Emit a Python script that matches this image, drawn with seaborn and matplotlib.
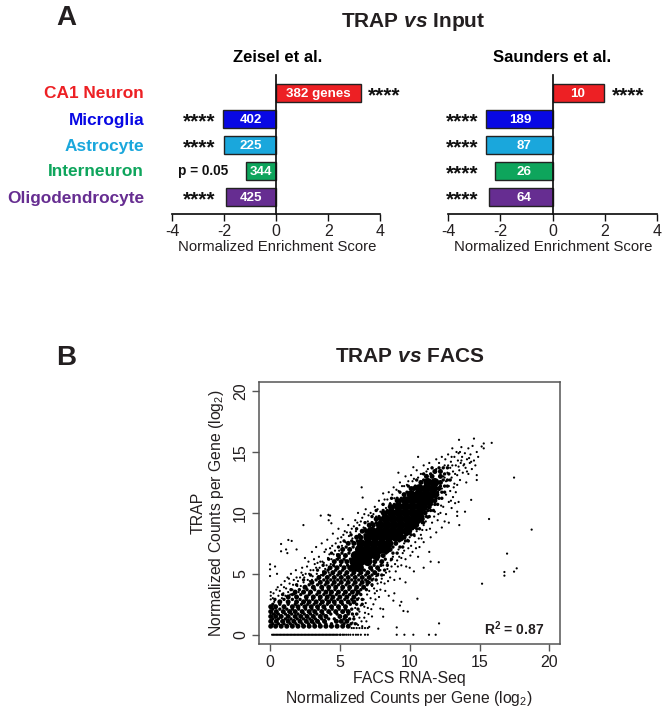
import matplotlib
matplotlib.use("Agg")
import matplotlib.pyplot as plt
import pandas as pd
import seaborn as sns

cell_types = ["CA1 Neuron", "Microglia", "Astrocyte", "Interneuron", "Oligodendrocyte"]
cell_colors = ["#ed2024", "#0808e4", "#1aa7dc", "#0ea55c", "#662d91"]
zeisel_nes = [3.26, -2.04, -1.99, -1.15, -1.91]
saunders_nes = [1.97, -2.55, -2.57, -2.22, -2.43]
zeisel_genes = ["382 genes", "402", "225", "344", "425"]
saunders_genes = ["10", "189", "87", "26", "64"]
zeisel_sig = ["****", "****", "****", "p = 0.05", "****"]
saunders_sig = ["****", "****", "****", "****", "****"]
nes_ticks = [-4, -2, 0, 2, 4]
scatter_ticks = [0, 5, 10, 15, 20]

core_rows = [
    (5.5, [6.0, 6.4]), (6, [6.0, 6.5, 7.0]), (6.5, [6.1, 6.6, 7.1, 7.6]),
    (7, [6.4, 6.9, 7.4, 7.9, 8.3]), (7.5, [6.5, 7.0, 7.5, 8.0, 8.5]),
    (8, [7.0, 7.5, 8.0, 8.5, 9.0, 9.3]), (8.5, [7.3, 7.8, 8.3, 8.8, 9.3, 9.8]),
    (9, [7.9, 8.4, 8.9, 9.4, 9.9, 10.2]), (9.5, [8.3, 8.8, 9.3, 9.8, 10.3, 10.6]),
    (10, [8.7, 9.2, 9.7, 10.2, 10.7]), (10.5, [9.2, 9.7, 10.2, 10.7, 11.0]),
    (11, [9.7, 10.2, 10.7, 11.2, 11.4]), (11.5, [10.1, 10.6, 11.1, 11.6]),
    (12, [10.7, 11.2, 11.7]), (12.5, [11.3, 11.8]),
]
patch_rows = [
    (0.7, [0.05, 0.4, 0.8, 1.2, 1.6, 2, 2.4, 2.8, 3.2, 3.6, 4, 4.4, 4.8, 5.2, 5.6]),
    (1.1, [0.05, 0.45, 0.9, 1.3, 1.7, 2.15, 2.6, 3, 3.4, 3.9, 4.75, 5.1, 5.5]),
    (1.5, [0.05, 0.4, 0.8, 1.3, 1.8, 2.2, 2.65, 3.1, 3.6, 4, 5.0, 5.4]),
    (1.9, [0.05, 0.45, 0.95, 1.4, 1.8, 2.3, 2.8, 3.2, 3.7, 4.2, 4.7, 5.2, 5.6]),
    (2.3, [0.05, 0.4, 1.0, 1.6, 2, 2.5, 2.95, 3.4, 3.85, 4.4, 4.9, 5.4]),
    (2.7, [0.7, 1.3, 1.9, 2.4, 2.8, 3.3, 3.75, 4.2, 4.6, 5.1, 5.6, 6]),
    (3.1, [1.3, 1.9, 2.6, 3.1, 3.6, 4.1, 4.5, 5, 5.5, 6]),
    (3.5, [1.8, 2.4, 2.9, 3.5, 4, 4.4, 4.9, 5.4, 5.9, 6.3]),
    (3.9, [2.5, 3.1, 3.7, 4.2, 4.7, 5.2, 5.7, 6.2, 6.7]),
    (4.3, [3, 3.6, 4.1, 4.6, 5.1, 5.6, 6.1, 6.6, 7]),
    (4.7, [3.5, 4.1, 4.6, 5.1, 5.6, 6.1, 6.6, 7.1]),
    (5.1, [3.9, 4.5, 5, 5.5, 6, 6.5, 7, 7.5]),
    (5.5, [4.3, 4.8, 5.3, 5.7, 7.2, 7.7]), (6, [4.6, 5.1, 5.5, 7.5, 8]),
    (6.5, [4.9, 5.4, 8.1]), (7, [5.2, 5.7, 8.6]), (7.5, [5.6, 6, 9]),
    (8, [6.2, 6.5, 9.6]), (8.5, [6.6, 6.9, 10]), (9, [7.1, 7.4, 10.5]),
    (9.5, [7.6, 7.9, 10.9]), (10, [8.1, 8.3, 11.1]), (10.5, [8.6, 8.8, 11.4]),
    (11, [9.1, 9.3, 11.8]), (11.5, [9.6, 11.95]), (12, [10.1, 10.3, 12.1]),
    (12.5, [10.8, 12.2]), (13, [11.2, 11.6, 12.2]), (13.4, [11.8, 12.2]),
]
speck_rows = [
    (0.9, [.2, .6, 1.0, 1.45, 1.85, 2.3, 2.75, 3.15, 3.55, 4.0, 4.4, 5.3, 5.8, 6.1]),
    (1.3, [.2, .6, 1.1, 1.5, 1.95, 2.4, 2.85, 3.25, 3.7, 4.2, 4.6, 5.3, 5.7, 6.0]),
    (1.7, [.25, .6, 1.1, 1.55, 2.0, 2.45, 2.9, 3.35, 3.8, 4.35, 4.8, 5.6, 5.9, 6.2]),
    (2.1, [.2, .7, 1.2, 1.6, 2.05, 2.55, 3.0, 3.45, 3.95, 4.45, 4.95, 5.4, 5.85, 6.3]),
    (2.5, [.2, .7, 1.3, 1.8, 2.25, 2.7, 3.15, 3.6, 4.1, 4.65, 5.2, 5.75, 6.2, 6.6]),
    (2.9, [.35, 1.0, 1.6, 2.15, 2.6, 3.05, 3.55, 4.0, 4.4, 4.85, 5.35, 5.85, 6.25, 6.6]),
    (3.3, [.9, 1.6, 2.2, 2.8, 3.35, 3.85, 4.3, 4.75, 5.25, 5.7, 6.2, 6.5]),
    (3.7, [1.5, 2.1, 2.65, 3.2, 3.75, 4.2, 4.65, 5.15, 5.65, 6.1, 6.5, 6.9]),
    (4.1, [1.9, 2.8, 3.4, 3.95, 4.45, 4.9, 5.45, 5.95, 6.45, 6.95, 7.3]),
    (4.5, [2.4, 3.3, 3.85, 4.35, 4.85, 5.35, 5.85, 6.35, 6.85, 7.3, 7.6]),
    (4.9, [2.9, 3.8, 4.3, 4.85, 5.35, 5.85, 6.35, 6.85, 7.3, 7.7, 8.0]),
    (5.3, [3.4, 4.15, 4.7, 5.2, 5.75, 6.25, 6.75, 7.3, 7.8, 8.2]),
    (5.7, [3.8, 4.55, 5.05, 5.55, 7.45, 7.95, 8.4]),
    (6.2, [4.2, 4.85, 5.3, 5.75, 7.7, 8.25, 8.7]),
    (6.7, [4.4, 5.15, 5.65, 8.3, 8.8, 9.1]),
    (7.2, [4.9, 5.45, 5.95, 8.8, 9.3, 9.5]),
    (7.7, [5.3, 5.85, 6.25, 9.25, 9.7, 9.9]),
    (8.2, [5.8, 6.4, 6.8, 9.75, 10.1, 10.3]),
    (8.7, [6.2, 6.8, 7.1, 10.2, 10.5, 10.7]),
    (9.2, [6.8, 7.3, 7.6, 10.6, 10.9, 11.0]),
    (9.7, [7.3, 7.8, 8.1, 10.95, 11.2, 11.4]),
    (10.2, [7.6, 8.1, 8.4, 11.3, 11.5, 11.7]),
    (10.7, [8.1, 8.6, 8.9, 11.55, 11.8, 12.0]),
    (11.2, [8.7, 9.1, 9.4, 11.9, 12.1, 12.3]),
    (11.7, [9.3, 9.8, 12.0, 12.3, 12.5]),
    (12.2, [9.9, 10.4, 12.2, 12.5, 12.7]),
    (12.7, [10.5, 11.0, 12.4, 12.7, 12.9]),
    (13.2, [11.0, 11.5, 12.5, 12.8]),
    (13.7, [11.6, 12.1, 12.4, 12.7]),
]
zero_row_x = [0.15, 0.25, 0.35, 0.45, 0.55, 0.65, 0.75, 0.85, 0.95, 1.05, 1.15, 1.25, 1.35, 1.45, 1.55,
              1.65, 1.75, 1.85, 1.95, 2.05, 2.15, 2.25, 2.35, 2.45, 2.55, 2.65, 2.75, 2.85, 2.95, 3.05,
              3.15, 3.25, 3.35, 3.45, 3.55, 3.65, 3.75, 3.85, 3.95, 4.05, 4.15, 4.25, 4.35, 4.45, 4.55,
              4.65, 4.75, 4.85, 5.0, 5.05, 5.2, 5.3, 5.45, 5.6, 5.75, 5.95, 6.15, 6.3, 6.5, 6.8, 7.0,
              9.07, 9.62, 10.26, 11.38, 11.86]
upper_fringe = [
    (.05, 2.9), (.05, 3.2), (.05, 3.5), (.2, 3), (.25, 3.4), (.35, 2.9), (.45, 3.7), (.6, 3.2), (.7, 3.6), (.8, 4.1),
    (.95, 3.4), (1.05, 4.4), (1.15, 3.8), (1.3, 3.5), (1.4, 4.2), (1.5, 5.0), (1.6, 3.7), (1.7, 4.5), (1.85, 5.3),
    (1.95, 4.0), (2.05, 3.5), (2.15, 4.7), (2.3, 5.5), (2.4, 4.3), (2.5, 6.3), (2.55, 5.0), (2.7, 4.5), (2.75, 6.0),
    (2.9, 5.3), (3.0, 6.8), (3.05, 4.8), (3.2, 5.8), (3.3, 7.2), (3.35, 5.0), (3.5, 6.4), (3.55, 5.5), (3.7, 7.5),
    (3.75, 6.0), (3.9, 6.8), (3.95, 5.4), (4.1, 7.8), (4.15, 6.3), (4.3, 7.1), (4.35, 5.8), (4.5, 8.3), (4.55, 6.6),
    (4.7, 7.5), (4.75, 6.2), (4.9, 8.7), (4.95, 6.9), (5.1, 8.0), (5.15, 7.3), (5.35, 8.5), (5.4, 7.6), (5.6, 9.0),
    (5.65, 8.1), (5.85, 8.7), (5.9, 7.9), (6.1, 9.4), (6.15, 8.5), (6.3, 10.0), (6.4, 9.0), (6.6, 9.6), (6.7, 8.8),
    (6.85, 10.3), (7.0, 9.3), (7.2, 10.0), (7.3, 9.2), (7.5, 10.5), (7.6, 9.7), (7.8, 11.0), (7.9, 10.1), (8.2, 11.1),
    (8.3, 10.4), (8.5, 11.7), (8.6, 10.8), (8.85, 12.1), (8.9, 11.2), (9.2, 11.8), (9.3, 12.5), (9.6, 12.2), (9.7, 13.0),
    (9.9, 12.6), (10.1, 13.1), (10.3, 12.8), (10.5, 13.5), (10.8, 13.2), (11, 13.9), (11.2, 13.4), (11.4, 14.1),
    (11.6, 13.7), (11.9, 14.4),
    (.3, 2.7), (.55, 3.9), (.85, 3.0), (1.1, 3.2), (1.25, 4.7), (1.45, 3.3), (1.75, 3.3), (1.9, 4.7), (2.2, 4.0), (2.35, 4.9),
    (2.6, 3.9), (2.85, 4.4), (3.1, 5.3), (3.4, 5.9), (3.65, 4.9), (3.85, 5.9), (4.05, 5.7), (4.25, 6.6), (4.45, 7.3),
    (4.65, 6.9), (4.85, 7.9), (5.05, 7.6), (5.25, 8.2), (5.5, 8.4), (5.75, 8.4), (6, 8.9), (6.25, 9.2), (6.5, 9.3),
    (6.75, 9.9), (7.05, 9.8), (7.4, 9.9), (7.7, 10.3), (8.05, 10.7), (8.4, 11.1), (8.75, 11.5), (9.05, 11.9), (9.45, 12.2),
    (9.8, 12.3), (10.2, 12.6), (10.6, 12.9), (10.95, 13.2), (11.3, 13.6),
    (1.0, 3.9), (1.35, 4.6), (1.65, 4.1), (2.0, 4.4), (2.25, 5.1), (2.45, 4.7), (2.65, 5.6), (2.8, 5.0), (3.0, 4.5), (3.15, 6.2),
    (3.3, 5.5), (3.45, 4.7), (3.6, 6.0), (3.8, 5.2), (4.0, 7.0), (4.2, 5.1), (4.4, 6.2), (4.6, 5.6), (4.8, 6.6), (5.0, 6.3),
]
top_tail = [
    (11.9, 13.6), (12.1, 14.1), (12.2, 13.4), (12.3, 14.6), (12.4, 13.0), (12.5, 13.9), (12.55, 14.4), (12.6, 12.6),
    (12.7, 13.3), (12.75, 14.8), (12.8, 12.2), (12.9, 13.7), (12.95, 14.2), (13, 12.9), (13.05, 15.3), (13.1, 13.4),
    (13.2, 14.6), (13.2, 12.4), (13.3, 13.9), (13.35, 15.0), (13.4, 13.1), (13.45, 14.3), (13.5, 14.9), (13.55, 13.5),
    (13.6, 12.7), (13.65, 14.1), (13.7, 15.4), (13.75, 14.6), (13.8, 13.3), (13.9, 14.0), (13.95, 14.9), (14, 13.7),
    (14.05, 12.5), (14.1, 14.4), (14.2, 15.3), (14.2, 13.2), (14.3, 14.1), (14.35, 14.8), (14.45, 13.6), (14.5, 15.5),
    (14.6, 14.3), (14.7, 13.9), (14.8, 15.0), (14.9, 14.6), (12.3, 12.0), (12.6, 11.5), (12.9, 11.8), (13.1, 11.3),
    (13.3, 11.7), (13.5, 10.9), (12.8, 10.9), (12.4, 10.5), (13.0, 10.4), (12.2, 10.0), (12.6, 9.9),
    (13.05, 13.9), (13.25, 13.2), (13.5, 13.8), (13.7, 14.3), (13.85, 13.9), (14.1, 13.4), (14.25, 14.5), (14.4, 14.2),
    (13.15, 12.1), (13.4, 12.3), (12.95, 11.0), (13.25, 10.8), (12.5, 12.9), (12.75, 13.9), (13.0, 14.6), (13.6, 15.0),
]
lower_fringe = [
    (5.85, .55), (6, .55), (6.2, .55), (6.4, .55), (6.6, .55), (6.8, .55), (7, .55), (6.2, .9), (6.4, 1.4), (6.6, .7),
    (6.8, 1.8), (6.9, 1.1), (6.1, 2.2), (6.5, 2.4), (7.0, 2.2), (6.7, 2.9), (7.2, 3.0), (7.4, 2.5), (6.4, 1.9), (5.9, 1.0),
    (6.0, 1.5), (7.1, 3.6), (7.5, 3.4), (7.7, 4.2), (7.3, 4.0), (7.9, 3.7), (8.0, 4.6), (7.6, 4.8), (8.2, 4.2), (8.3, 5.1),
    (7.9, 5.3), (8.5, 3.2), (8.6, 4.7), (8.7, 5.6), (8.4, 5.9), (9, 5.2), (9.1, 6.1), (8.8, 6.4), (9.3, 4.6), (9.4, 5.7),
    (9.5, 6.7), (9.2, 7.0), (9.7, 6.2), (9.9, 7.1), (9.6, 7.5), (10, 5.5), (10.2, 6.8), (10.4, 7.6), (10, 8), (10.6, 6.4),
    (10.7, 7.2), (10.8, 8.2), (10.5, 8.5), (11, 7.6), (11.2, 8.6), (11, 9), (11.4, 6.8), (11.5, 8), (11.6, 9.2), (11.3, 9.6),
    (11.9, 8.4), (12, 9.4), (11.8, 10.1), (12.3, 8.8), (12.5, 9.3), (12.8, 9.2), (11, 5.5), (11.5, 6.0), (10.3, 5.2),
    (9.7, 4.3), (8.9, 3.4),
    (8.1, 5.7), (8.55, 5.2), (8.95, 5.8), (9.25, 6.4), (9.6, 6.9), (9.85, 7.8), (10.1, 7.3), (10.35, 8.1), (10.65, 7.9),
    (10.9, 8.6), (11.15, 9.3), (11.45, 8.7), (11.75, 9.7), (12.05, 9.9), (12.25, 10.6), (7.4, 4.6), (7.75, 5.0), (7.15, 4.3),
    (6.95, 3.3), (6.35, 3.0), (6.75, 2.3), (7.25, 2.1), (7.55, 2.9), (7.8, 3.1), (8.25, 3.6), (8.45, 4.4),
    (6.3, .8), (6.55, 1.1), (6.75, 1.4), (6.25, 1.7), (6.85, 2.6), (7.05, 1.7), (7.3, 1.5), (7.45, 3.8), (7.65, 3.6), (7.95, 4.3),
    (8.15, 4.9), (8.4, 5.4), (8.65, 6.1), (8.9, 4.5), (9.15, 5.6), (9.4, 6.3), (9.75, 5.6), (10.05, 6.5), (10.45, 7.1), (10.85, 7.9),
]
outliers = [
    (17.47, 12.9), (15.68, 9.5), (18.73, 8.63), (16.97, 6.66), (17.66, 5.45), (17.47, 5.18), (16.78, 5.15), (16.78, 4.85),
    (15.18, 4.19), (12.1, .93), (10.55, 2.96), (13.53, 16.0), (14.6, 16.1), (15.87, 15.75), (15.3, 15.7), (15.15, 15.45),
    (15.3, 15.3), (14.8, 13.1), (14.8, 12.7), (14.4, 11.07), (13.96, 10.1), (13.4, 10.1), (13.4, 9.75), (13.55, 9),
    (12.08, 5.95), (10.6, 14.6), (10.26, 13.75), (9.19, 13.3), (8.1, 11.6), (6.56, 12.1), (6.63, 11.26), (2.39, 9.0),
    (3.63, 9.78), (4.18, 9.84), (4.3, 9.78), (4.39, 9.15), (5.2, 9.5), (4.2, 9.4), (1.31, 7.78), (1.55, 7.7), (.79, 7.45),
    (1.15, 7.0), (1.9, 7.0), (.79, 6.85), (1.24, 6.7), (0, 5.78), (0, 5.37), (0, 4.82), (.36, 5.6), (.5, 5), (9.07, .6),
    (7.1, .65), (7.75, .5), (8.1, 1.48), (9.4, 2.7), (8.83, 2.8), (9.3, 2.4), (8.1, 2.1), (7.9, 2.15), (9.86, 1.9), (9.55, 1.95),
]

W, H = 668, 713
DARK = "#231f20"

sns.set_theme(style="white")
plt.rcParams["font.family"] = ["Liberation Sans", "DejaVu Sans"]
plt.rcParams["axes.unicode_minus"] = False
plt.rcParams["mathtext.fontset"] = "custom"
plt.rcParams["mathtext.rm"] = "Liberation Sans"
plt.rcParams["mathtext.bf"] = "Liberation Sans:bold"
plt.rcParams["mathtext.it"] = "Liberation Sans:italic:bold"


def px_axes(fig, left, top, right, bottom):
    return fig.add_axes([left / W, 1 - bottom / H, (right - left) / W, (bottom - top) / H])


def px_text(fig, x, y, s, **kw):
    kw.setdefault("ha", "center")
    kw.setdefault("va", "center")
    kw.setdefault("color", DARK)
    fig.text(x / W, 1 - y / H, s, **kw)


def plot_nes(ax, values, genes, sig, label_x, sig_x):
    df = pd.DataFrame({"cell": cell_types, "nes": values})
    sns.barplot(data=df, x="nes", y="cell", hue="cell", palette=cell_colors, orient="h", width=0.68, saturation=1,
                dodge=False, legend=False, edgecolor="#222222", linewidth=1, ax=ax)
    ax.set_xlim(-4, 4)
    ax.set_ylim(4.65, -0.68)
    ax.set_xticks(nes_ticks)
    ax.set_yticks([])
    ax.set_xlabel("")
    ax.set_ylabel("")
    sns.despine(ax=ax, top=True, right=True)
    ax.spines["left"].set_position(("data", 0))
    ax.spines["left"].set_color("#111111")
    ax.spines["bottom"].set_color("#111111")
    ax.tick_params(axis="x", bottom=True, length=5, width=1, color="#111111", labelsize=11.5, pad=2, labelcolor=DARK)
    ax.patch.set_alpha(0)
    for i in range(len(values)):
        ax.text(label_x[i], i + 0.04, genes[i], color="white", fontweight="bold", fontsize=9.6, ha="center", va="center")
        if sig[i].startswith("*"):
            ax.text(sig_x[i], i + 0.12, sig[i], color="#111111", fontsize=15, fontweight="bold", ha="center", va="center", clip_on=False)
        else:
            ax.text(sig_x[i], i, sig[i], color="#111111", fontsize=9.8, fontweight="bold", ha="center", va="center", clip_on=False)


def scatter_frame():
    frames = []
    core = [(x, y) for y, xs in core_rows for x in xs]
    patch = [(x, y) for y, xs in patch_rows for x in xs]
    speck = [(x, y) for y, xs in speck_rows for x in xs]
    dots = upper_fringe + top_tail + lower_fringe + outliers + [(x, 0) for x in zero_row_x]
    for name, pts in [("core", core), ("patch", patch), ("speck", speck), ("dot", dots)]:
        part = pd.DataFrame(pts, columns=["facs", "trap"])
        part["tier"] = name
        frames.append(part)
    return pd.concat(frames, ignore_index=True)


def plot_scatter(ax):
    sns.scatterplot(data=scatter_frame(), x="facs", y="trap", size="tier",
                    sizes={"core": 42, "patch": 13, "speck": 6, "dot": 2.5},
                    color="black", linewidth=0, legend=False, ax=ax)
    ax.set_xlim(-0.79, 20.76)
    ax.set_ylim(-0.76, 20.77)
    ax.set_xticks(scatter_ticks)
    ax.set_yticks(scatter_ticks)
    ax.set_xlabel("")
    ax.set_ylabel("")
    for side in ax.spines.values():
        side.set_color("#555555")
        side.set_linewidth(1.1)
    ax.tick_params(axis="both", bottom=True, left=True, length=5, width=1, color="#555555", labelsize=11.5, pad=3, labelcolor=DARK)
    for lab in ax.get_yticklabels():
        lab.set_rotation(90)
        lab.set_va("center")
    ax.text(19.6, 0.46, r"R$^{\mathbf{2}}$ = 0.87", fontsize=10, fontweight="bold", color=DARK, ha="right", va="center")


fig = plt.figure(figsize=(W / 100, H / 100), dpi=100)

ax_z = px_axes(fig, 172, 75, 380.3, 214)
plot_nes(ax_z, zeisel_nes, zeisel_genes, zeisel_sig, [1.63, -0.97, -0.97, -0.59, -0.97], [4.15, -2.94, -2.94, -2.82, -2.94])
ax_s = px_axes(fig, 448.3, 75, 657, 214)
plot_nes(ax_s, saunders_nes, saunders_genes, saunders_sig, [0.97, -1.23, -1.09, -1.09, -1.09], [2.88, -3.46, -3.46, -3.46, -3.46])
ax_b = px_axes(fig, 259, 381.7, 560, 644)
plot_scatter(ax_b)

# row labels on the left, coloured per cell type
for i, (name, col) in enumerate(zip(cell_types, cell_colors)):
    fig.text(144 / W, 1 - (94 + 26 * i) / H, name, color=col, fontsize=12.4, fontweight="bold", ha="right", va="center")

px_text(fig, 66, 18, "A", fontsize=20, fontweight="bold")
px_text(fig, 66, 358, "B", fontsize=20, fontweight="bold")
px_text(fig, 413.5, 22, r"TRAP $\mathit{vs}$ Input", fontsize=15, fontweight="bold")
px_text(fig, 410, 356, r"TRAP $\mathit{vs}$ FACS", fontsize=15, fontweight="bold")
px_text(fig, 278, 57, "Zeisel et al.", fontsize=12, fontweight="bold", color="black")
px_text(fig, 552, 57, "Saunders et al.", fontsize=12, fontweight="bold", color="black")
px_text(fig, 277, 247, "Normalized Enrichment Score", fontsize=10.7)
px_text(fig, 553, 247, "Normalized Enrichment Score", fontsize=10.7)
px_text(fig, 409, 679, "FACS RNA-Seq", fontsize=11.4)
px_text(fig, 409, 698, r"Normalized Counts per Gene (log$_{2}$)", fontsize=11.3)
px_text(fig, 198, 513, "TRAP", fontsize=11.4, rotation=90)
px_text(fig, 217, 513, r"Normalized Counts per Gene (log$_{2}$)", fontsize=11.3, rotation=90)

fig.savefig("out.png", dpi=100)
